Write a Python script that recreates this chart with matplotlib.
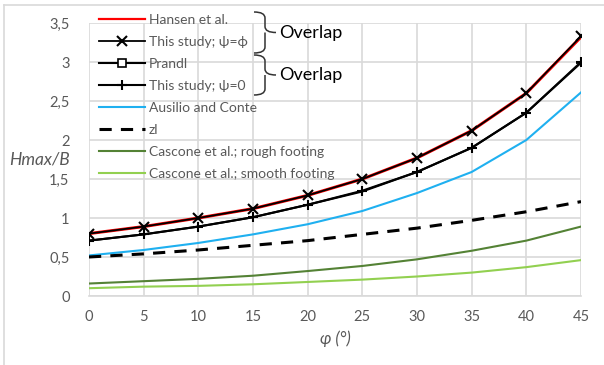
import numpy as np
import matplotlib
matplotlib.use("Agg")
import matplotlib.pyplot as plt
from matplotlib.path import Path
from matplotlib.patches import PathPatch
from matplotlib.lines import Line2D

plt.rcParams['font.family'] = ['Lato', 'DejaVu Sans']

# ============ DATA ============
phi = [0, 5, 10, 15, 20, 25, 30, 35, 40, 45]
hansen = [0.80, 0.89, 1.00, 1.12, 1.29, 1.50, 1.77, 2.12, 2.60, 3.32]
study_psi_phi = [0.80, 0.89, 1.00, 1.12, 1.29, 1.50, 1.77, 2.12, 2.60, 3.33]
prandtl = [0.71, 0.79, 0.89, 1.01, 1.17, 1.35, 1.59, 1.90, 2.35, 2.99]
study_psi_0 = [0.71, 0.79, 0.89, 1.01, 1.17, 1.34, 1.59, 1.90, 2.35, 3.00]
ausilio = [0.52, 0.59, 0.68, 0.79, 0.92, 1.09, 1.32, 1.59, 2.00, 2.61]
zl = [0.50, 0.54, 0.59, 0.65, 0.71, 0.79, 0.87, 0.97, 1.08, 1.21]
cascone_rough = [0.16, 0.19, 0.22, 0.26, 0.32, 0.385, 0.47, 0.58, 0.71, 0.89]
cascone_smooth = [0.10, 0.12, 0.13, 0.15, 0.18, 0.21, 0.25, 0.30, 0.37, 0.46]

xticks = [0, 5, 10, 15, 20, 25, 30, 35, 40, 45]
yticks = [0, 0.5, 1, 1.5, 2, 2.5, 3, 3.5]
ytick_labels = ["0", "0,5", "1", "1,5", "2", "2,5", "3", "3,5"]

GRAY = "#595959"
GRID = "#D9D9D9"

# ============ FIGURE ============
fig = plt.figure(figsize=(6.04, 3.65), dpi=100)
ax = fig.add_axes([89 / 604, 1 - 296 / 365, 492 / 604, 273 / 365])

ax.plot(phi, hansen, color="#FF0000", lw=2.2, zorder=4)
h1 = Line2D([], [], color="#FF0000", lw=1.6, label="Hansen et al.")
h2, = ax.plot(phi, study_psi_phi, color="black", lw=1.3, marker="x", ms=7.5, mew=1.5,
              label="This study; \u03c8=\u03d5", zorder=5)
# Prandl markers are hidden under the psi=0 crosses in the original
ax.plot(phi, prandtl, color="black", lw=1.5, marker="_", ms=7, mew=1.3,
        markevery=slice(3, None), zorder=3)
h3 = Line2D([], [], color="black", lw=1.5, marker="s", ms=6, mfc="white", mew=1.2,
            label="Prandl")
h4, = ax.plot(phi, study_psi_0, color="black", lw=1.5, marker="+", ms=7, mew=1.5,
              label="This study; \u03c8=0", zorder=4)
h5, = ax.plot(phi, ausilio, color="#1FB0F0", lw=1.5, label="Ausilio and Conte", zorder=3)
h6, = ax.plot(phi, zl, color="black", lw=2.2, ls=(0, (4, 3)), label="zl", zorder=3)
h7, = ax.plot(phi, cascone_rough, color="#548235", lw=1.5,
              label="Cascone et al.; rough footing", zorder=3)
h8, = ax.plot(phi, cascone_smooth, color="#92D050", lw=1.5,
              label="Cascone et al.; smooth footing", zorder=3)

ax.set_xlim(0, 45)
ax.set_ylim(0, 3.5)
ax.set_xticks(xticks)
ax.set_yticks(yticks)
ax.set_yticklabels(ytick_labels)
ax.grid(True, color=GRID, lw=1.2, zorder=0)
ax.set_axisbelow(True)
for side in ["left", "top", "right"]:
    ax.spines[side].set_visible(False)
ax.spines["bottom"].set_color(GRID)
ax.spines["bottom"].set_linewidth(1.2)
ax.tick_params(length=0, labelsize=10.5, labelcolor=GRAY, pad=10)
ax.tick_params(axis="y", pad=14)

ax.set_xlabel("\u03c6 (\u00b0)", fontsize=12, color=GRAY, style="italic", labelpad=5)
ax.set_ylabel("Hmax/B", fontsize=12.5, color=GRAY, style="italic", rotation=0,
              labelpad=0)
ax.yaxis.set_label_coords(-0.1, 0.47)

leg = ax.legend(handles=[h1, h2, h3, h4, h5, h6, h7, h8],
                loc="upper left", bbox_to_anchor=(0.0, 1.069), frameon=False,
                fontsize=10, labelcolor=GRAY, handlelength=3.3, handletextpad=0.3,
                labelspacing=0.72, borderaxespad=0.3)
leg.set_zorder(10)


# curly braces in figure pixels (y measured from top)
def brace(y0, y1, x0, x1):
    H = 365.0
    W = 604.0
    ym = (y0 + y1) / 2
    xm = (x0 + x1) / 2
    pts = [(x0, y0), (xm, y0), (xm, y0 + 6), (xm, ym - 6), (xm, ym), (x1, ym),
           (xm, ym), (xm, ym + 6), (xm, y1 - 6), (xm, y1), (x0, y1)]
    pts = [(px / W, 1 - py / H) for px, py in pts]
    codes = [Path.MOVETO, Path.CURVE3, Path.CURVE3, Path.LINETO, Path.CURVE3,
             Path.CURVE3, Path.MOVETO, Path.CURVE3, Path.LINETO, Path.CURVE3,
             Path.CURVE3]
    fig.add_artist(PathPatch(Path(pts, codes), fill=False, lw=1.1,
                             edgecolor="#333333", transform=fig.transFigure))


brace(12, 53, 254, 276)
brace(55, 95, 254, 276)
fig.text(279 / 604, 1 - 33 / 365, "Overlap", fontsize=13, color="black", va="center")
fig.text(279 / 604, 1 - 75 / 365, "Overlap", fontsize=13, color="black", va="center")

# outer chart border (top and left visible)
fig.add_artist(plt.Line2D([4 / 604, 1.0], [1 - 5 / 365, 1 - 5 / 365],
                          color=GRID, lw=1.2, transform=fig.transFigure))
fig.add_artist(plt.Line2D([4 / 604, 4 / 604], [0.0, 1 - 5 / 365],
                          color=GRID, lw=1.2, transform=fig.transFigure))

fig.savefig("out.png", dpi=100)
